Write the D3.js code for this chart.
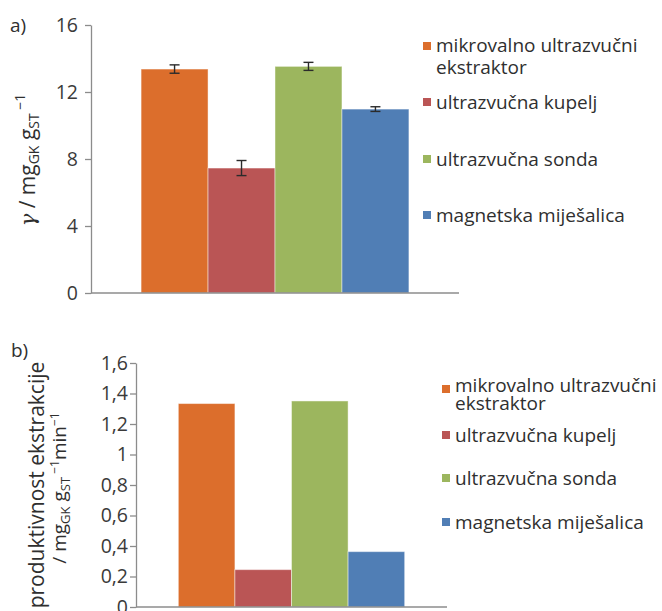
<!DOCTYPE html>
<html>
<head>
<meta charset="utf-8">
<script src="https://cdn.jsdelivr.net/npm/d3@7"></script>
<style>
  html, body { margin: 0; padding: 0; background: #fff; }
  svg { display: block; font-family: "Open Sans", sans-serif; }
  .axis path, .axis line { stroke: #8c8c8c; stroke-width: 1.3; }
  .axis text { fill: #3a3a3a; font-size: 19.5px; font-family: "Open Sans", sans-serif; }
  .label, .legend text { fill: #2f2f2f; }
</style>
</head>
<body>
<svg id="chart" width="662" height="611"></svg>
<script>
/* ── Data ─────────────────────────────────────────────────────────────────── */
const methods = [
  "mikrovalno ultrazvučni ekstraktor",
  "ultrazvučna kupelj",
  "ultrazvučna sonda",
  "magnetska miješalica",
];
const legendLines = [
  ["mikrovalno ultrazvučni", "ekstraktor"],
  ["ultrazvučna kupelj"],
  ["ultrazvučna sonda"],
  ["magnetska miješalica"],
];
const COLORS = ["#dc6e2c", "#ba5555", "#9cb65e", "#507eb5"];

// a) mass concentration, mg GK / g ST
const concentration = [13.37, 7.46, 13.53, 10.98];
const concError = [0.25, 0.45, 0.24, 0.14];
const concTicks = [0, 4, 8, 12, 16];

// b) extraction productivity, mg GK / g ST / min
const productivity = [1.334, 0.245, 1.351, 0.363];
const prodTicks = [0, 0.2, 0.4, 0.6, 0.8, 1, 1.2, 1.4, 1.6];

const hr = d3.formatLocale({ decimal: ",", thousands: ".", grouping: [3], currency: ["", ""] });
const fmtComma = hr.format("~f");

const svg = d3.select("#chart");

/* ── Panel ────────────────────────────────────────────────────────────────── */
function drawPanel(cfg) {
  const g = svg.append("g");

  const y = d3.scaleLinear().domain(cfg.domain).range([cfg.bottom, cfg.top]);
  const xGroup = d3.scaleBand().domain([""]).range([cfg.left, cfg.right]).paddingOuter(0.187);
  const x = d3.scaleBand().domain(methods)
    .range([xGroup(""), xGroup("") + xGroup.bandwidth()]);

  // bars
  g.append("g").selectAll("rect")
    .data(cfg.values)
    .join("rect")
    .attr("x", (d, i) => x(methods[i]))
    .attr("y", d => y(d))
    .attr("width", x.bandwidth())
    .attr("height", d => y(0) - y(d))
    .attr("fill", (d, i) => COLORS[i])
    .attr("stroke", "rgba(255,255,255,0.45)")
    .attr("stroke-width", 1);

  // error bars
  if (cfg.errors) {
    const eb = g.append("g").selectAll("g")
      .data(cfg.values.map((v, i) => ({ v, e: cfg.errors[i], m: methods[i] })))
      .join("g")
      .attr("stroke", "#2b2b2b")
      .attr("stroke-width", 1.4);
    const cx = d => x(d.m) + x.bandwidth() / 2;
    eb.append("line")
      .attr("x1", cx).attr("x2", cx)
      .attr("y1", d => y(d.v + d.e)).attr("y2", d => y(d.v - d.e));
    [1, -1].forEach(s => {
      eb.append("line")
        .attr("x1", d => cx(d) - 5).attr("x2", d => cx(d) + 5)
        .attr("y1", d => y(d.v + s * d.e)).attr("y2", d => y(d.v + s * d.e));
    });
  }

  // y axis
  g.append("g")
    .attr("class", "axis")
    .attr("transform", `translate(${cfg.left},0)`)
    .call(d3.axisLeft(y).tickValues(cfg.ticks).tickFormat(cfg.format)
      .tickSize(6).tickSizeOuter(0).tickPadding(cfg.tickPad));

  // x axis (baseline only)
  g.append("line")
    .attr("x1", cfg.left).attr("x2", cfg.right)
    .attr("y1", y(0)).attr("y2", y(0))
    .attr("stroke", "#8c8c8c").attr("stroke-width", 1.6);

  // panel letter
  g.append("text")
    .attr("class", "label")
    .attr("x", cfg.letterX).attr("y", cfg.letterY)
    .attr("font-size", 19)
    .text(cfg.letter);

  // legend
  const leg = g.append("g").attr("class", "legend");
  legendLines.forEach((lines, i) => {
    const cy = cfg.legendRows[i];
    leg.append("rect")
      .attr("x", cfg.legendX).attr("y", cy - 4 + (i === 0 ? cfg.firstSqShift : 0))
      .attr("width", 8).attr("height", 8)
      .attr("fill", COLORS[i]);
    lines.forEach((t, j) => {
      leg.append("text")
        .attr("x", cfg.legendX + 13)
        .attr("y", cy + j * cfg.lineGap)
        .attr("dy", "0.35em")
        .attr("font-size", cfg.legendSize)
        .text(t);
    });
  });

  return g;
}

/* ── a) ───────────────────────────────────────────────────────────────────── */
drawPanel({
  values: concentration, errors: concError,
  domain: [0, 16], ticks: concTicks, format: d3.format("d"),
  left: 91, right: 459, top: 25, bottom: 293, tickPad: 7,
  letter: "a)", letterX: 10, letterY: 32,
  legendX: 423, legendRows: [45, 102, 159, 215], lineGap: 22, firstSqShift: 1,
  legendSize: 19,
});

// y label a)
const la = svg.append("text")
  .attr("class", "label")
  .attr("transform", "translate(35,160) rotate(-90)")
  .attr("text-anchor", "middle")
  .attr("font-size", 21);
la.append("tspan").attr("font-style", "italic").attr("font-family", "DejaVu Serif").text("γ");
la.append("tspan").text(" / mg");
la.append("tspan").attr("font-size", 14).attr("dy", 4).text("GK");
la.append("tspan").attr("dy", -4).text(" g");
la.append("tspan").attr("font-size", 14).attr("dy", 4).text("ST");
la.append("tspan").attr("font-size", 14).attr("dy", -14).text(" −1");

/* ── b) ───────────────────────────────────────────────────────────────────── */
drawPanel({
  values: productivity, errors: null,
  domain: [0, 1.6], ticks: prodTicks, format: fmtComma,
  left: 136, right: 447, top: 363, bottom: 607, tickPad: 2,
  letter: "b)", letterX: 11, letterY: 357,
  legendX: 442, legendRows: [385, 435, 478, 522], lineGap: 18, firstSqShift: 4,
  legendSize: 19,
});

// y label b), two lines
svg.append("text")
  .attr("class", "label")
  .attr("transform", "translate(44,485) rotate(-90)")
  .attr("text-anchor", "middle")
  .attr("font-size", 21)
  .text("produktivnost ekstrakcije");

const lb2 = svg.append("text")
  .attr("class", "label")
  .attr("transform", "translate(66,488) rotate(-90)")
  .attr("text-anchor", "middle")
  .attr("font-size", 19);
lb2.append("tspan").text("/ mg");
lb2.append("tspan").attr("font-size", 13).attr("dy", 4).text("GK");
lb2.append("tspan").attr("dy", -4).text(" g");
lb2.append("tspan").attr("font-size", 13).attr("dy", 4).text("ST");
lb2.append("tspan").attr("font-size", 12).attr("dy", -11).text(" −1");
lb2.append("tspan").attr("dy", 7).text("min");
lb2.append("tspan").attr("font-size", 12).attr("dy", -7).text("−1");
</script>
</body>
</html>
